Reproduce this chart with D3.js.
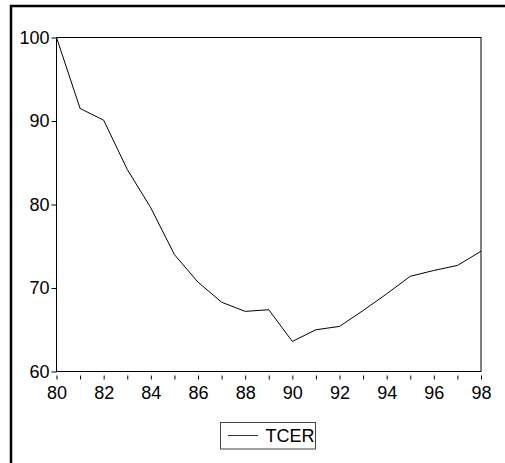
<!DOCTYPE html>
<html>
<head>
  <script src="https://d3js.org/d3.v7.min.js"></script>
  <style>
    body { margin: 0; background: #fff; }
    svg { display: block; font-family: "Liberation Sans", Arial, sans-serif; }
  </style>
</head>
<body>
  <div id="chart"></div>
  <script>
    // TCER series
    const years = [80, 81, 82, 83, 84, 85, 86, 87, 88, 89, 90, 91, 92, 93, 94, 95, 96, 97, 98];
    const tcer = [100, 91.5, 90.1, 84.2, 79.6, 74.0, 70.7, 68.3, 67.2, 67.4, 63.6, 65.0, 65.4, 67.3, 69.3, 71.4, 72.1, 72.7, 74.4];
    const yTicks = [60, 70, 80, 90, 100];
    const xLabels = [80, 82, 84, 86, 88, 90, 92, 94, 96, 98];

    const W = 505, H = 463;
    const plot = { left: 56.5, right: 481, top: 37.5, bottom: 371.5 };

    const svg = d3.select("#chart").append("svg")
      .attr("width", W)
      .attr("height", H);

    // outer frame (right and bottom edges fall outside the picture)
    svg.append("rect")
      .attr("x", 11).attr("y", 6)
      .attr("width", W + 10).attr("height", H + 10)
      .attr("fill", "none")
      .attr("stroke", "#000")
      .attr("stroke-width", 2.5);

    const x = d3.scaleLinear().domain([80, 98]).range([plot.left, plot.right]);
    const y = d3.scaleLinear().domain([60, 100]).range([plot.bottom, plot.top]);

    // plot frame
    svg.append("rect")
      .attr("x", plot.left).attr("y", plot.top)
      .attr("width", plot.right - plot.left)
      .attr("height", plot.bottom - plot.top)
      .attr("fill", "none")
      .attr("stroke", "#000")
      .attr("stroke-width", 1);

    // x axis: small ticks detached from the frame
    const xAxis = svg.append("g")
      .attr("transform", "translate(0," + (plot.bottom + 4) + ")")
      .call(d3.axisBottom(x)
        .tickValues(years)
        .tickSize(4)
        .tickPadding(7)
        .tickFormat(d => xLabels.includes(d) ? d : ""));
    xAxis.select(".domain").remove();
    xAxis.selectAll("text").attr("font-size", 18).attr("fill", "#000").attr("font-family", null);

    // y axis
    const yAxis = svg.append("g")
      .attr("transform", "translate(" + plot.left + ",0)")
      .call(d3.axisLeft(y)
        .tickValues(yTicks)
        .tickSize(5)
        .tickPadding(2));
    yAxis.select(".domain").remove();
    yAxis.selectAll("text").attr("font-size", 18).attr("fill", "#000").attr("font-family", null);

    // series line
    const line = d3.line()
      .x((d, i) => x(years[i]))
      .y(d => y(d));

    svg.append("path")
      .datum(tcer)
      .attr("fill", "none")
      .attr("stroke", "#000")
      .attr("stroke-width", 1)
      .attr("d", line);

    // legend
    const legend = svg.append("g");
    legend.append("rect")
      .attr("x", 220.5).attr("y", 422.5)
      .attr("width", 95).attr("height", 26.5)
      .attr("fill", "none")
      .attr("stroke", "#444")
      .attr("stroke-width", 1);
    legend.append("line")
      .attr("x1", 228).attr("x2", 258)
      .attr("y1", 435.5).attr("y2", 435.5)
      .attr("stroke", "#333");
    legend.append("text")
      .attr("x", 265.5).attr("y", 442)
      .attr("font-size", 18)
      .text("TCER");
  </script>
</body>
</html>
